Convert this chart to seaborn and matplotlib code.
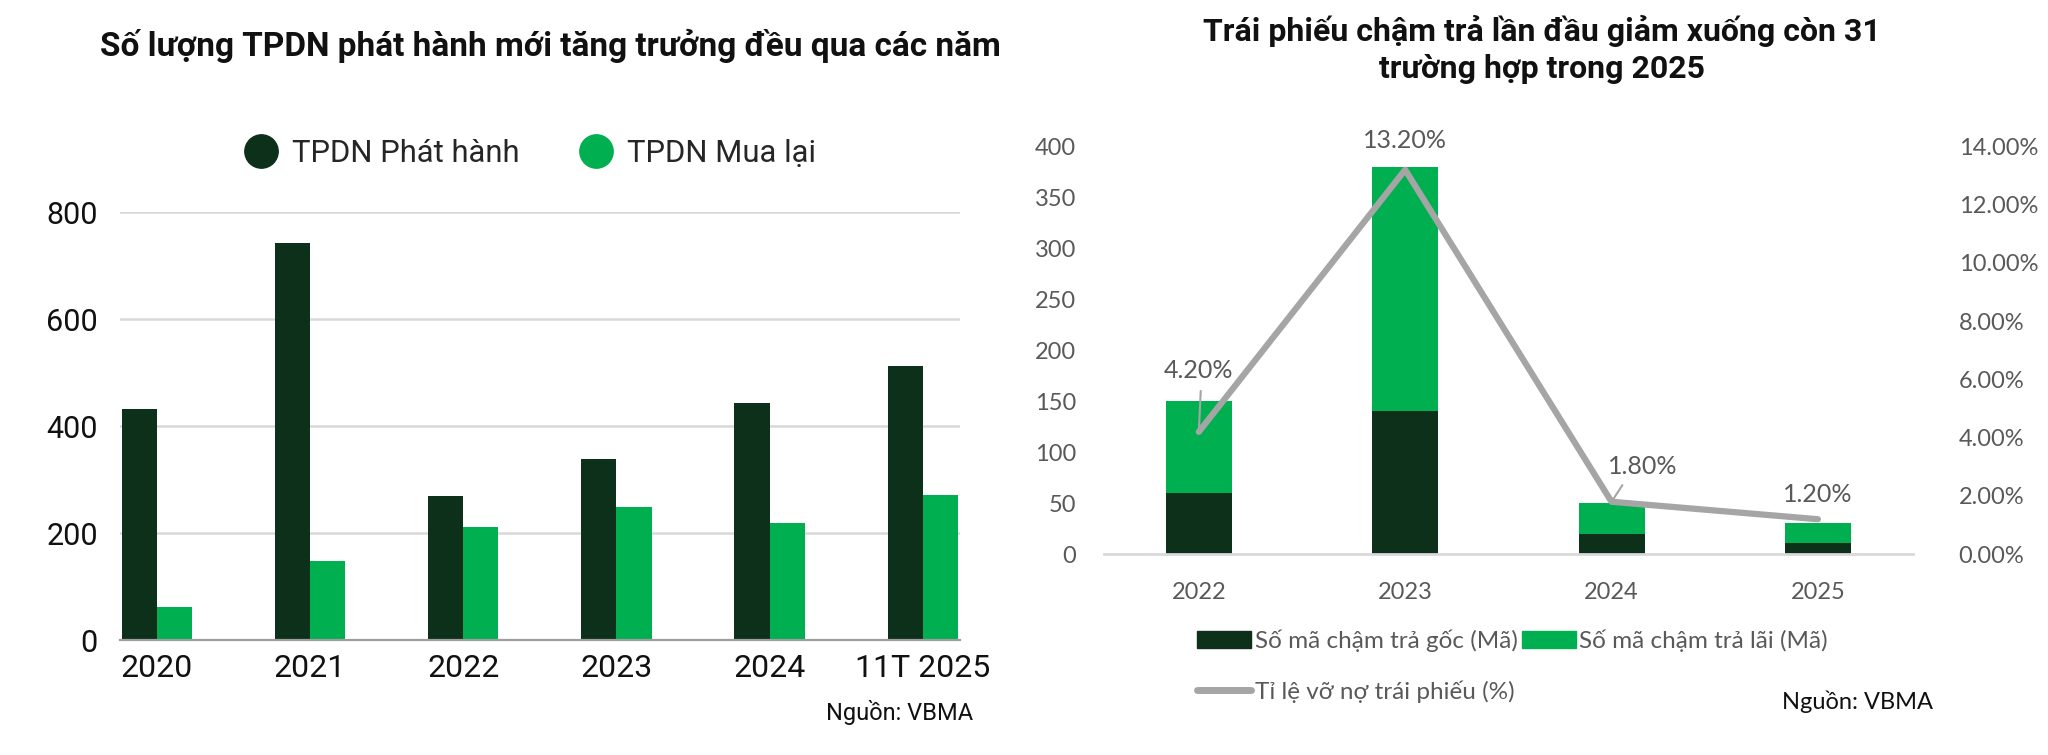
import numpy as np
import pandas as pd
import matplotlib.pyplot as plt
import seaborn as sns
from matplotlib.lines import Line2D
from matplotlib.patches import Patch
from matplotlib.ticker import FuncFormatter

# Biểu đồ trái: số lượng TPDN phát hành / mua lại
nam_trai = ["2020", "2021", "2022", "2023", "2024", "11T 2025"]
phat_hanh = [432, 742, 269, 338, 443, 512]
mua_lai = [62, 148, 211, 249, 220, 271]

# Biểu đồ phải: trái phiếu chậm trả lần đầu
nam_phai = ["2022", "2023", "2024", "2025"]
cham_goc = [60, 140, 20, 11]
cham_lai = [90, 240, 30, 20]
ti_le_vo_no = [4.2, 13.2, 1.8, 1.2]

XANH_DAM = "#0C3019"
XANH_LA = "#00AF50"
XAM = "#A5A5A5"
XAM_CHU = "#595959"

sns.set_theme(style="white")
plt.rcParams["font.family"] = ["Roboto", "DejaVu Sans"]
CALIBRI = ["Lato", "DejaVu Sans"]

fig = plt.figure(figsize=(20.48, 7.55), dpi=100)

# ---------------- trái ----------------
ax1 = fig.add_axes([0.0586, 0.152, 0.41, 0.567])
df1 = pd.DataFrame({
    "nam": nam_trai * 2,
    "so_luong": phat_hanh + mua_lai,
    "loai": ["TPDN Phát hành"] * len(nam_trai) + ["TPDN Mua lại"] * len(nam_trai),
})
sns.barplot(data=df1, x="nam", y="so_luong", hue="loai",
            palette=[XANH_DAM, XANH_LA], width=0.46, saturation=1,
            legend=False, linewidth=0, ax=ax1)
ax1.set_xlim(-0.24, 5.24)
ax1.set_ylim(0, 800)
ax1.set_yticks([0, 200, 400, 600, 800])
ax1.yaxis.grid(True, color="#D9D9D9", lw=1.8)
ax1.set_axisbelow(True)
for s in ["top", "left", "right"]:
    ax1.spines[s].set_visible(False)
ax1.spines["bottom"].set_color("#9E9E9E")
ax1.spines["bottom"].set_linewidth(1.6)
ax1.tick_params(axis="y", length=0, pad=16, labelsize=22, labelcolor="#111111")
ax1.tick_params(axis="x", length=0, pad=10, labelsize=23, labelcolor="#111111")
ax1.set_xlabel("")
ax1.set_ylabel("")

fig.text(0.269, 0.939, "Số lượng TPDN phát hành mới tăng trưởng đều qua các năm",
         ha="center", va="center", fontsize=24, fontweight="bold", color="#111111")

leg_tay = [
    Line2D([], [], ls="", marker="o", markersize=24, color=XANH_DAM, label="TPDN Phát hành"),
    Line2D([], [], ls="", marker="o", markersize=24, color=XANH_LA, label="TPDN Mua lại"),
]
fig.legend(handles=leg_tay, loc="center", bbox_to_anchor=(0.259, 0.797), ncol=2,
           frameon=False, fontsize=22.3, handlelength=1.06, handletextpad=0.48,
           columnspacing=1.94)
fig.text(0.475, 0.056, "Nguồn: VBMA", ha="right", va="center", fontsize=17, color="#111111")

# ---------------- phải ----------------
ax2 = fig.add_axes([0.539, 0.266, 0.395, 0.540])
tong = [g + l for g, l in zip(cham_goc, cham_lai)]
sns.barplot(x=nam_phai, y=tong, color=XANH_LA, width=0.32, saturation=1,
            linewidth=0, ax=ax2)
sns.barplot(x=nam_phai, y=cham_goc, color=XANH_DAM, width=0.32, saturation=1,
            linewidth=0, ax=ax2)
ax2.set_ylim(0, 400)
ax2.set_yticks(np.arange(0, 401, 50))
for s in ["top", "left", "right"]:
    ax2.spines[s].set_visible(False)
ax2.spines["bottom"].set_color("#D9D9D9")
ax2.spines["bottom"].set_linewidth(2)
ax2.tick_params(axis="y", length=0, pad=20, labelsize=17, labelcolor=XAM_CHU)
ax2.tick_params(axis="x", length=0, pad=20, labelsize=17, labelcolor=XAM_CHU)
for t in ax2.get_xticklabels() + ax2.get_yticklabels():
    t.set_family(CALIBRI)

ax3 = ax2.twinx()
sns.lineplot(x=np.arange(len(nam_phai)), y=ti_le_vo_no, color=XAM, lw=4.5, ax=ax3)
ax3.set_ylim(0, 14)
ax3.set_yticks(np.arange(0, 14.1, 2))
ax3.yaxis.set_major_formatter(FuncFormatter(lambda v, p: f"{v:.2f}%"))
ax3.tick_params(axis="y", length=0, pad=33, labelsize=17, labelcolor=XAM_CHU)
for t in ax3.get_yticklabels():
    t.set_family(CALIBRI)
for s in ax3.spines.values():
    s.set_visible(False)
ax3.set_ylabel("")
ax2.set_xlim(-0.46, 3.46)

# nhãn dữ liệu tỉ lệ
vi_tri_nhan = [(0.0, 6.3), (1.0, 14.2), (2.15, 3.0), (3.0, 2.06)]
for v, (xn, yn) in zip(ti_le_vo_no, vi_tri_nhan):
    ax3.text(xn, yn, f"{v:.2f}%", ha="center", va="center", fontsize=18,
             color=XAM_CHU, family=CALIBRI, clip_on=False)
ax3.annotate("", xy=(0, 4.2), xytext=(0.01, 5.7),
             arrowprops=dict(arrowstyle="-", color=XAM, lw=1.5))
ax3.annotate("", xy=(2.0, 1.8), xytext=(2.06, 2.45),
             arrowprops=dict(arrowstyle="-", color=XAM, lw=1.5))

fig.text(0.753, 0.934, "Trái phiếu chậm trả lần đầu giảm xuống còn 31\ntrường hợp trong 2025",
         ha="center", va="center", fontsize=23, fontweight="bold", color="#111111",
         linespacing=1.3)

leg_phai = [
    Patch(color=XANH_DAM, label="Số mã chậm trả gốc (Mã)"),
    Line2D([], [], color=XAM, lw=5, label="Tỉ lệ vỡ nợ trái phiếu (%)"),
    Patch(color=XANH_LA, label="Số mã chậm trả lãi (Mã)"),
]
lg = fig.legend(handles=leg_phai, loc="upper left", bbox_to_anchor=(0.574, 0.195), ncol=2,
                frameon=False, handlelength=2.2, handleheight=0.7,
                handletextpad=0.15, columnspacing=0.2, labelspacing=1.15,
                prop={"family": CALIBRI, "size": 17.5})
for t in lg.get_texts():
    t.set_color(XAM_CHU)
fig.text(0.944, 0.071, "Nguồn: VBMA", ha="right", va="center", fontsize=17,
         color="#111111", family=CALIBRI)

fig.savefig("out.png", dpi=100, facecolor="white")
